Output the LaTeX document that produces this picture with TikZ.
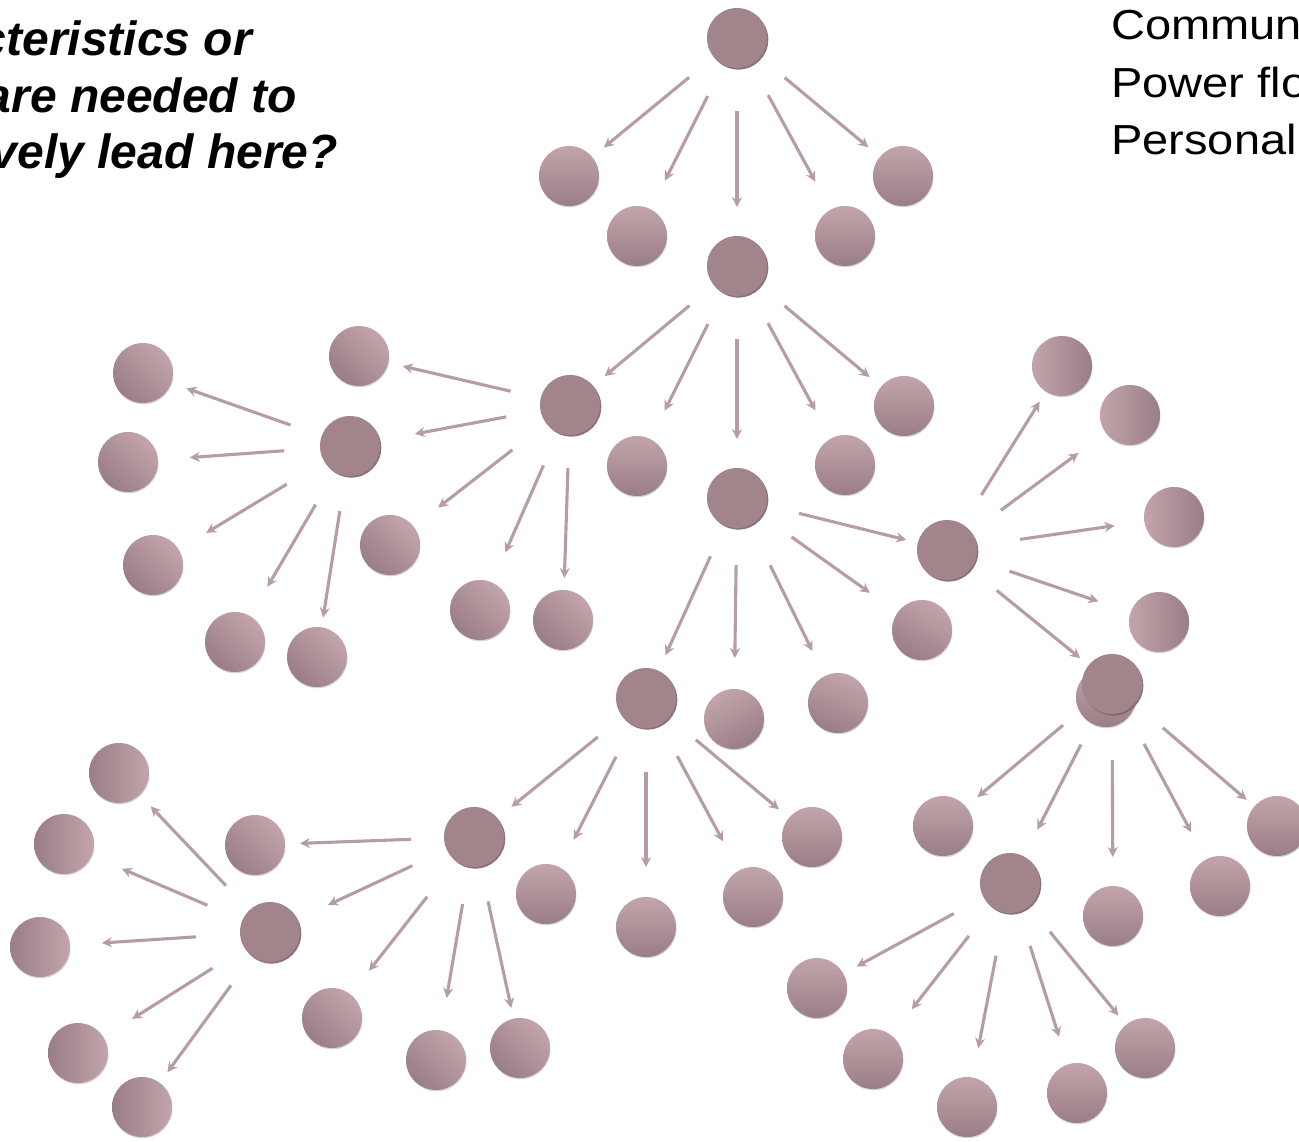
\documentclass[tikz,border=0pt]{standalone}
\usepackage{fontspec}
\setmainfont{Liberation Sans}
\usetikzlibrary{arrows.meta,shadows}
\definecolor{hubc}{HTML}{A1858B}
\definecolor{hubrim}{HTML}{7E6469}
\definecolor{leafhi}{HTML}{C3A4AB}
\definecolor{leaflo}{HTML}{9A7E85}
\definecolor{arrc}{HTML}{B59DA3}
\tikzset{
  hub/.style={circle, minimum size=60pt, inner sep=0pt, outer sep=0pt, fill=hubc,
    drop shadow={shadow xshift=1.3pt, shadow yshift=-1.6pt, fill=hubrim, opacity=0.9}},
  leaf/.style={circle, minimum size=60pt, inner sep=0pt, outer sep=0pt,
    drop shadow={shadow xshift=0.5pt, shadow yshift=-1.3pt, fill=black, opacity=0.16},
    top color=leafhi, bottom color=leaflo, shading angle=#1},
  leaf/.default=0,
  conn/.style={draw=arrc, line width=3.1pt, -{Stealth[length=10pt,width=10pt]}},
  qtext/.style={font=\fontsize{48}{56}\selectfont\bfseries\itshape, anchor=base east, inner sep=0pt},
  rtext/.style={font=\fontsize{42}{58}\selectfont, anchor=base west, inner sep=0pt, xscale=1.12},
}
\newcommand\arr[4]{\draw[conn, shorten <=#3pt, shorten >=#4pt] (#1) -- (#2);}
\begin{document}
\begin{tikzpicture}[x=1pt,y=-1pt]
\useasboundingbox (0,0) rectangle (1299,1141);
\clip (0,0) rectangle (1299,1141);
\fill[white] (0,0) rectangle (1299,1141);

% texts
\node[qtext] (q1) at (252,55) {cteristics or};
\node[qtext] (q2) at (297,112) {are needed to};
\node[qtext] (q3) at (338,168) {vely lead here?};
\node[rtext] (r1) at (1111,39) {Commun};
\node[rtext] (r2) at (1111,97) {Power flo};
\node[rtext] (r3) at (1111,154) {Personal};

% top cluster
\node[hub] (A) at (737,38) {};
\node[leaf] (a1) at (569,176) {};
\node[leaf] (a2) at (637,236) {};
\node[leaf] (a4) at (845,236) {};
\node[leaf] (a5) at (903,176) {};
\node[hub] (B) at (737,266) {};
\arr{A}{a1}{32}{15}
\arr{A}{a2}{35}{32}
\arr{A}{B}{43}{29}
\arr{A}{a4}{35}{32}
\arr{A}{a5}{32}{15}

% B cluster
\node[hub] (C) at (570,405) {};
\node[leaf] (b2) at (637,466) {};
\node[hub] (D) at (737,498) {};
\node[leaf] (b4) at (845,465) {};
\node[leaf] (b5) at (904,406) {};
\arr{B}{C}{32}{15}
\arr{B}{b2}{35}{32}
\arr{B}{D}{43}{29}
\arr{B}{b4}{35}{32}
\arr{B}{b5}{32}{15}

% C cluster
\node[leaf=-45] (c1) at (359,356) {};
\node[hub] (C2) at (350,446) {};
\node[leaf=-45] (c3) at (390,545) {};
\node[leaf=-45] (c4) at (480,610) {};
\node[leaf=-45] (c5) at (563,620) {};
\arr{C}{c1}{31}{15}
\arr{C}{C2}{35}{36}
\arr{C}{c3}{43}{31}
\arr{C}{c4}{36}{33}
\arr{C}{c5}{33}{12}

% C2 cluster
\node[leaf=-45] (d1) at (143,373) {};
\node[leaf=-45] (d2) at (128,462) {};
\node[leaf=-45] (d3) at (153,565) {};
\node[leaf=-45] (d4) at (235,642) {};
\node[leaf=-45] (d5) at (317,657) {};
\arr{C2}{d1}{33}{16}
\arr{C2}{d2}{36}{32}
\arr{C2}{d3}{44}{32}
\arr{C2}{d4}{38}{34}
\arr{C2}{d5}{36}{10}

% D cluster
\node[hub] (E) at (947,550) {};
\node[leaf=-30] (x1) at (922,630) {};
\node[hub] (F) at (646,698) {};
\node[leaf=30] (x2) at (734,719) {};
\node[leaf=-20] (x3) at (838,703) {};
\arr{D}{E}{34}{12}
\arr{D}{x1}{37}{34}
\arr{D}{F}{34}{17}
\arr{D}{x2}{37}{31}
\arr{D}{x3}{45}{28}

% E cluster
\node[leaf=90] (e1) at (1062,366) {};
\node[leaf=90] (e2) at (1130,415) {};
\node[leaf=90] (e3) at (1174,517) {};
\node[leaf=90] (e4) at (1159,622) {};
\node[leaf] (G0) at (1106,697) {};
\node[hub] (G) at (1112,684) {};
\arr{E}{e1}{35}{12}
\arr{E}{e2}{37}{34}
\arr{E}{e3}{44}{30}
\arr{E}{e4}{36}{34}
\arr{E}{G}{34}{11}

% G cluster
\node[leaf] (g1) at (943,826) {};
\node[hub] (J) at (1010,883) {};
\node[leaf] (g3) at (1113,916) {};
\node[leaf] (g4) at (1220,886) {};
\node[leaf] (g5) at (1277,826) {};
\arr{G}{g1}{34}{15}
\arr{G}{J}{38}{30}
\arr{G}{g3}{46}{29}
\arr{G}{g4}{38}{31}
\arr{G}{g5}{37}{10}

% J cluster
\node[leaf] (j1) at (817,988) {};
\node[leaf] (j2) at (873,1059) {};
\node[leaf] (j3) at (967,1107) {};
\node[leaf] (j4) at (1077,1093) {};
\node[leaf] (j5) at (1145,1048) {};
\arr{J}{j1}{34}{15}
\arr{J}{j2}{37}{33}
\arr{J}{j3}{44}{30}
\arr{J}{j4}{36}{29}
\arr{J}{j5}{33}{12}

% F cluster
\node[hub] (H) at (474,837) {};
\node[leaf] (f2) at (546,894) {};
\node[leaf] (f3) at (646,927) {};
\node[leaf] (f4) at (753,897) {};
\node[leaf] (f5) at (812,837) {};
\arr{F}{H}{32}{18}
\arr{F}{f2}{36}{31}
\arr{F}{f3}{44}{30}
\arr{F}{f4}{36}{33}
\arr{F}{f5}{35}{13}

% H cluster
\node[leaf=-45] (h1) at (255,845) {};
\node[hub] (I) at (270,932) {};
\node[leaf=-45] (h3) at (332,1018) {};
\node[leaf=-45] (h4) at (436,1060) {};
\node[leaf=-45] (h5) at (520,1048) {};
\arr{H}{h1}{33}{15}
\arr{H}{I}{38}{34}
\arr{H}{h3}{46}{30}
\arr{H}{h4}{38}{33}
\arr{H}{h5}{36}{11}

% I cluster
\node[leaf=-90] (i1) at (119,773) {};
\node[leaf=-90] (i2) at (64,844) {};
\node[leaf=-90] (i3) at (40,947) {};
\node[leaf=-90] (i4) at (78,1053) {};
\node[leaf=-90] (i5) at (142,1107) {};
\arr{I}{i1}{34}{16}
\arr{I}{i2}{38}{33}
\arr{I}{i3}{44}{32}
\arr{I}{i4}{38}{34}
\arr{I}{i5}{36}{13}
\end{tikzpicture}
\end{document}
